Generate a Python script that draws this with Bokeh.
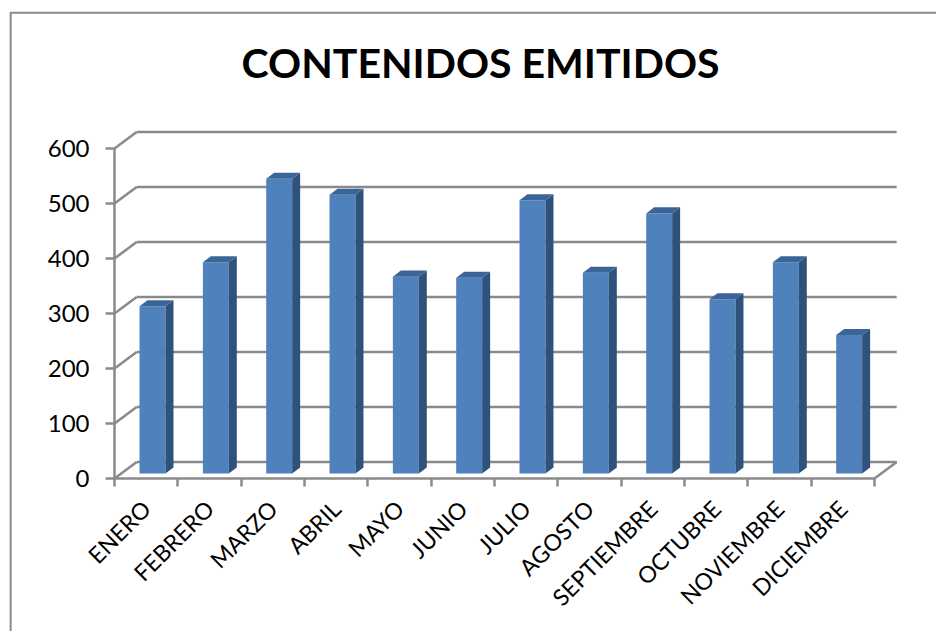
import math
from bokeh.plotting import figure
from bokeh.models import FixedTicker, Range1d, Label
from bokeh.embed import file_html
from bokeh.resources import INLINE

title_text = "CONTENIDOS EMITIDOS"
months = ["ENERO", "FEBRERO", "MARZO", "ABRIL", "MAYO", "JUNIO", "JULIO",
          "AGOSTO", "SEPTIEMBRE", "OCTUBRE", "NOVIEMBRE", "DICIEMBRE"]
values = [304, 384, 536, 507, 358, 356, 497, 365, 473, 317, 384, 252]
y_ticks = [0, 100, 200, 300, 400, 500, 600]

FONT = "Lato"
GREY = "#8a8a8a"
FRONT, SIDE, TOP = "#4f81bd", "#2f527c", "#3b6497"
BACK_DX, BACK_DY = 0.35, 30      # depth of the chart box, data units
BAR_DX, BAR_DY = 0.126, 11       # depth of one bar, data units
BAR_L, BAR_R, FLOOR = 0.395, 0.805, 9
X0, X1, Y0, Y1 = -1.674, 12.979, -278.2, 850.9

p = figure(width=936, height=631, output_backend="svg", toolbar_location=None,
           x_range=Range1d(X0, X1), y_range=Range1d(Y0, Y1),
           min_border_left=8, min_border_right=0, min_border_top=10, min_border_bottom=0)
p.grid.visible = False
p.outline_line_color = None
p.background_fill_color = "white"

# Chart area border, open to the right and the bottom of the page
BL, BT = -1.64, 847.0
p.line(x=[BL, BL, X1], y=[Y0, BT, BT], line_color=GREY, line_width=2)

# Box (back wall grid, diagonals, floor edge)
n = len(months)
p.segment(x0=[BACK_DX] * len(y_ticks), y0=[t + BACK_DY for t in y_ticks],
          x1=[n + BACK_DX] * len(y_ticks), y1=[t + BACK_DY for t in y_ticks],
          line_color=GREY, line_width=2.5)
p.segment(x0=[0] * len(y_ticks), y0=y_ticks,
          x1=[BACK_DX] * len(y_ticks), y1=[t + BACK_DY for t in y_ticks],
          line_color=GREY, line_width=2.5)
p.segment(x0=[n], y0=[0], x1=[n + BACK_DX], y1=[BACK_DY], line_color=GREY, line_width=2.5)

# Bars
lefts = [i + BAR_L for i in range(n)]
rights = [i + BAR_R for i in range(n)]
tops = [v + FLOOR for v in values]
p.quad(left=lefts, right=rights, bottom=[FLOOR] * n, top=tops, fill_color=FRONT, line_color=None)
p.patches(xs=[[r, r + BAR_DX, r + BAR_DX, r] for r in rights],
          ys=[[FLOOR, FLOOR + BAR_DY, t + BAR_DY, t] for t in tops],
          fill_color=SIDE, line_color=None)
p.patches(xs=[[l, l + BAR_DX, r + BAR_DX, r] for l, r in zip(lefts, rights)],
          ys=[[t, t + BAR_DY, t + BAR_DY, t] for t in tops],
          fill_color=TOP, line_color=None)

# Axes (fixed inside the frame, which fills the whole chart area)
ya = p.yaxis[0]
ya.fixed_location = 0
ya.ticker = FixedTicker(ticks=y_ticks)
ya.bounds = (0, 600)
ya.axis_line_color = GREY
ya.axis_line_width = 2.5
ya.major_tick_line_color = GREY
ya.major_tick_line_width = 2.5
ya.major_tick_out = 9
ya.major_tick_in = 0
ya.minor_tick_line_color = None
ya.major_label_text_font = FONT
ya.major_label_text_font_size = "24px"
ya.major_label_text_color = "black"
ya.major_label_standoff = 16

xa = p.xaxis[0]
xa.fixed_location = 0
centres = [i + 0.5 for i in range(n)]
xa.ticker = FixedTicker(ticks=centres, minor_ticks=list(range(n + 1)))
xa.major_label_overrides = {c: m for c, m in zip(centres, months)}
xa.bounds = (0, n)
xa.axis_line_color = GREY
xa.axis_line_width = 2.5
xa.major_tick_line_color = None
xa.major_tick_out = 0
xa.major_tick_in = 0
xa.minor_tick_line_color = GREY
xa.minor_tick_line_width = 2.5
xa.minor_tick_out = 8
xa.minor_tick_in = 0
xa.major_label_orientation = math.pi / 4
xa.major_label_text_font = FONT
xa.major_label_text_font_size = "23px"
xa.major_label_text_color = "black"
xa.major_label_standoff = 18

p.add_layout(Label(x=5.78, y=757, text=title_text, text_align="center", text_baseline="alphabetic",
                   text_font=FONT, text_font_style="bold", text_font_size="41px", text_color="black"))

open("out.html", "w").write(file_html(p, INLINE))
